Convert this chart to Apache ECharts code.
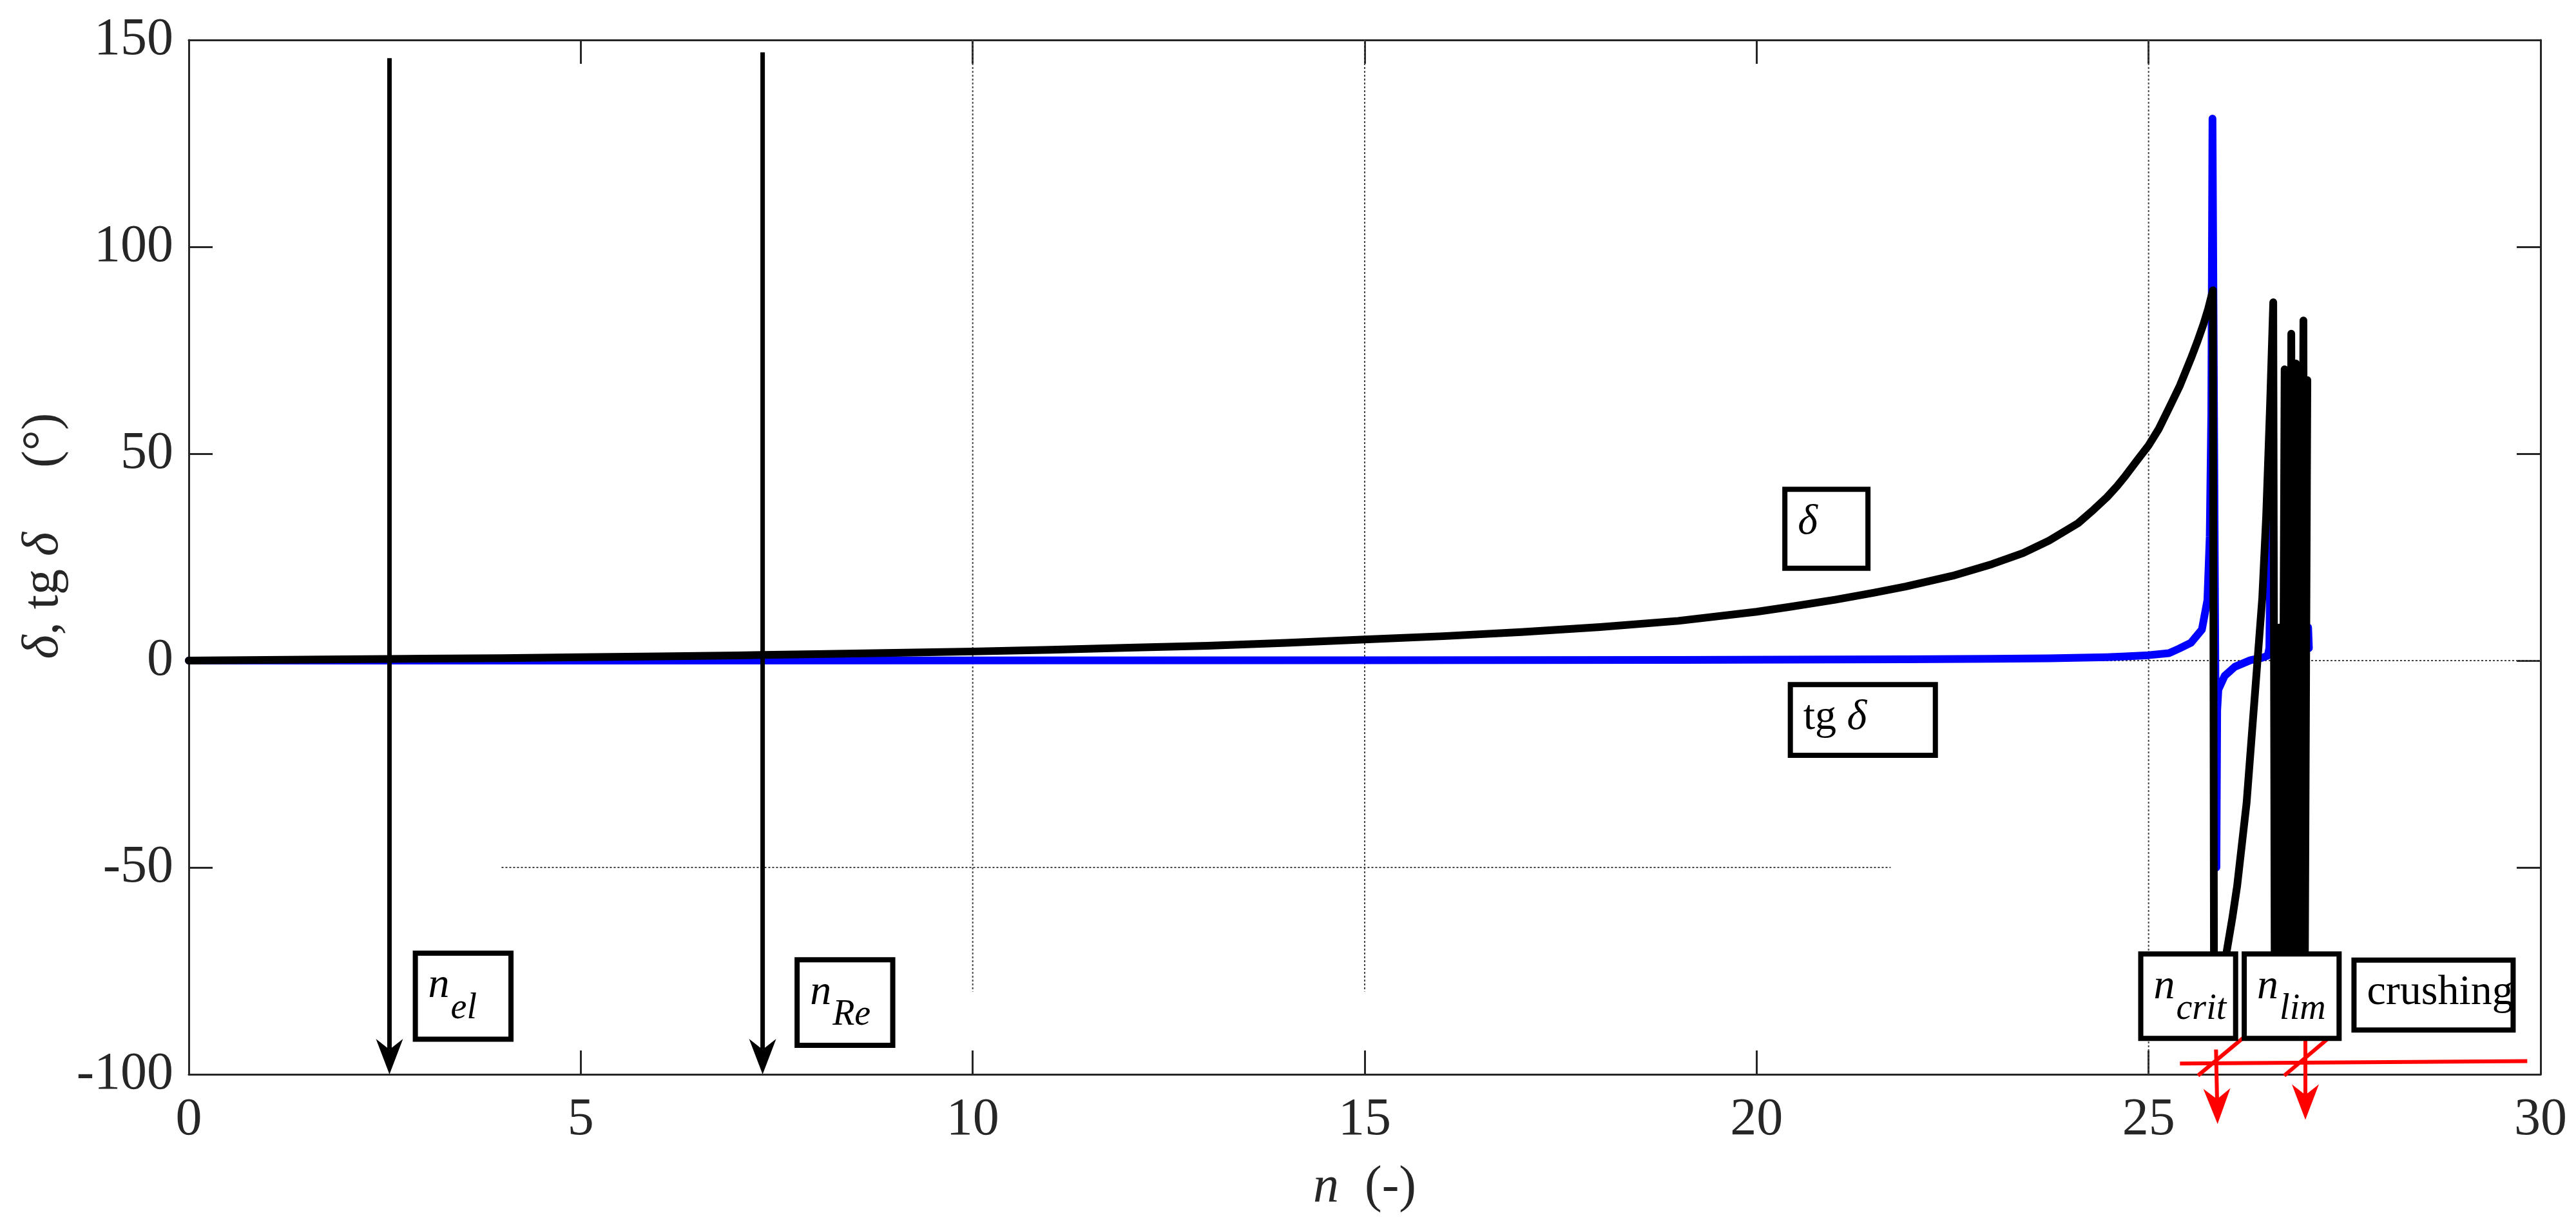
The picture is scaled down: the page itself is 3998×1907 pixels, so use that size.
<!DOCTYPE html>
<html>
<head>
<meta charset="utf-8">
<title>delta, tg delta vs n</title>
<script src="https://cdn.jsdelivr.net/npm/echarts@6/dist/echarts.min.js"></script>
<style>
  html, body { margin: 0; padding: 0; background: #fff; }
  #chart { width: 3998px; height: 1907px; }
</style>
</head>
<body>
<div id="chart"></div>
<script>
// ---- data ----
// delta (black)
const deltaN = [0, 1, 2, 2.56, 3, 4, 5, 6, 7, 7.32, 8, 9, 10, 11, 12, 13, 14, 15, 16, 17, 18, 19, 20, 20.43, 21, 21.5, 21.9, 22.5, 23, 23.4, 23.73, 24.1, 24.3, 24.47, 24.6, 24.71, 24.85,
  25, 25.13, 25.26, 25.4, 25.54, 25.62, 25.7, 25.76, 25.82,
  25.835, 25.95, 25.99, 26.07, 26.13, 26.25, 26.33, 26.37, 26.45, 26.5, 26.55, 26.59,
  26.61, 26.655, 26.665, 26.675, 26.7, 26.735, 26.76, 26.795, 26.82, 26.845, 26.86, 26.88, 26.9, 26.935, 26.975, 26.99, 26.995, 27.025]
const deltaVal = [0, 0.15, 0.3, 0.4, 0.45, 0.6, 0.8, 1.0, 1.25, 1.35, 1.55, 1.85, 2.2, 2.6, 3.1, 3.6, 4.3, 5.1, 5.9, 6.9, 8.1, 9.6, 11.8, 13.0, 14.7, 16.4, 17.9, 20.5, 23.3, 26.0, 29.0, 33.2, 36.5, 39.5, 42.2, 44.8, 48.3,
  52.0, 56.0, 61.0, 66.5, 73.0, 77.0, 81.3, 85.0, 89.5,
  -88, -88, -71, -62, -54.4, -34.4, -14.6, -4.7, 15.1, 35, 62, 86.6,
  -88, -88, 8, -88, -88, 70.4, -88, -88, 79, -88, -88, 71.8, -88, -88, 82.2, -88, -88, 67.8]

// tg delta (blue), null = gap
const tgN = [0, 5, 10, 15, 19, 20.43, 21.9, 23, 23.73, 24.47, 24.71, 25, 25.26, 25.39, 25.54, 25.68, 25.75, 25.78, 25.8, 25.815,
  25.865, 25.875, 25.89, 25.97, 26.1, 26.3, 26.45, 26.52, 26.54, 26.548, 26.56, 26.8, 27.025, 27.035, 27.045]
const tgVal = [0, 0.015, 0.04, 0.09, 0.17, 0.23, 0.32, 0.43, 0.55, 0.82, 1.0, 1.3, 1.8, 2.9, 4.3, 7.5, 14.6, 30, 60, 131,
  -50, -12, -7, -3.7, -1.5, 0.1, 0.7, 1.2, 3, 16, 60, null, 6, 8, 3]

// axis ticks
const xTicks = [0, 5, 10, 15, 20, 25, 30]
const yTicks = [-100, -50, 0, 50, 100, 150]

// partial reference lines
const gridVN = [10, 15, 25]
const gridVTop = [150, 150, 150]
const gridVBottom = [-80, -80, -100]
const gridHVal = [0, -50]
const gridHFrom = [0, 3.99]
const gridHTo = [30, 21.71]

// arrows [n0, v0, n1(tip), v1(tip)]
const markerArrows = [[2.56, 145.6, 2.56, -100], [7.32, 147.0, 7.32, -100]]
const crushArrows = [[25.86, -94, 25.88, -112], [27.0, -91.5, 27.0, -111]]
const crushLines = [[25.40, -97.4, 29.83, -96.8], [25.63, -100.3, 26.2, -91.3], [26.73, -100.3, 27.28, -91.5]]

// text boxes [n0, vTop, n1, vBottom]
const labelBoxes = [
  [2.89, -70.7, 4.11, -91.5],
  [7.76, -72.3, 8.98, -93.0],
  [24.9, -70.9, 26.11, -91.3],
  [26.22, -70.9, 27.43, -91.3],
  [27.62, -72.4, 29.65, -89.3],
  [20.36, 41.4, 21.42, 22.3],
  [20.43, -5.8, 22.28, -22.9]
]
const labelTexts = ['{m|n}{s|el}', '{m|n}{s|Re}', '{m|n}{s|crit}', '{m|n}{s|lim}', 'crushing', '{m|δ}', 'tg {i|δ}']

// ---- chart ----
const SERIF = 'Liberation Serif'
const AXIS_COLOR = '#262626'
const chart = echarts.init(document.getElementById('chart'))

const boxRich = {
  m: { fontFamily: SERIF, fontStyle: 'italic', fontSize: 66, color: '#000', verticalAlign: 'top' },
  s: { fontFamily: SERIF, fontStyle: 'italic', fontSize: 56, color: '#000', verticalAlign: 'top', padding: [40, 0, 0, 2] },
  i: { fontFamily: SERIF, fontStyle: 'italic', fontSize: 66, color: '#000' }
}

function renderBox(params, api) {
  const p0 = api.coord([api.value(0), api.value(1)])
  const p1 = api.coord([api.value(2), api.value(3)])
  return {
    type: 'group',
    children: [
      {
        type: 'rect',
        shape: { x: p0[0], y: p0[1], width: p1[0] - p0[0], height: p1[1] - p0[1] },
        style: { fill: '#fff', stroke: '#000', lineWidth: 8 }
      },
      {
        type: 'text',
        x: p0[0] + 20,
        y: p0[1] + 18,
        style: {
          text: labelTexts[params.dataIndex],
          rich: boxRich,
          fontFamily: SERIF,
          fontSize: 66,
          fill: '#000',
          align: 'left',
          verticalAlign: 'top'
        }
      }
    ]
  }
}

// arrow / segment drawer
function makeArrowRender(color, width, withHead) {
  return function (params, api) {
    const a = api.coord([api.value(0), api.value(1)])
    const b = api.coord([api.value(2), api.value(3)])
    const dx = b[0] - a[0], dy = b[1] - a[1]
    const len = Math.sqrt(dx * dx + dy * dy)
    const ux = dx / len, uy = dy / len
    const vx = -uy, vy = ux
    const children = []
    if (withHead) {
      const L = 55, W = 42
      const notch = [b[0] - ux * L * 0.7, b[1] - uy * L * 0.7]
      children.push({
        type: 'line',
        shape: { x1: a[0], y1: a[1], x2: notch[0], y2: notch[1] },
        style: { stroke: color, lineWidth: width }
      })
      children.push({
        type: 'polygon',
        shape: {
          points: [
            b,
            [b[0] - ux * L + vx * W / 2, b[1] - uy * L + vy * W / 2],
            notch,
            [b[0] - ux * L - vx * W / 2, b[1] - uy * L - vy * W / 2]
          ]
        },
        style: { fill: color }
      })
    } else {
      children.push({
        type: 'line',
        shape: { x1: a[0], y1: a[1], x2: b[0], y2: b[1] },
        style: { stroke: color, lineWidth: width }
      })
    }
    return { type: 'group', children: children }
  }
}

const refLineStyle = { color: '#444', width: 2, type: [3, 3] }
const refSeries = []
gridVN.forEach((n, i) => {
  refSeries.push({
    type: 'line', z: 1, silent: true, symbol: 'none', animation: false,
    lineStyle: refLineStyle,
    data: [[n, gridVTop[i]], [n, gridVBottom[i]]]
  })
})
gridHVal.forEach((v, i) => {
  refSeries.push({
    type: 'line', z: 1, silent: true, symbol: 'none', animation: false,
    lineStyle: refLineStyle,
    data: [[gridHFrom[i], v], [gridHTo[i], v]]
  })
})

const axisLineStyle = { color: AXIS_COLOR, width: 3 }
const tickStyle = { inside: true, length: 37, lineStyle: { color: AXIS_COLOR, width: 3 } }
const labelFont = { fontFamily: SERIF, fontSize: 82, color: AXIS_COLOR }
const richName = { i: { fontFamily: SERIF, fontSize: 80, fontStyle: 'italic', color: AXIS_COLOR } }

const option = {
  animation: false,
  backgroundColor: '#fff',
  grid: { left: 293, right: 55, top: 62, bottom: 240, containLabel: false },
  xAxis: [
    {
      type: 'value', min: xTicks[0], max: xTicks[xTicks.length - 1], interval: 5,
      position: 'bottom',
      axisLine: { show: true, onZero: false, lineStyle: axisLineStyle },
      axisTick: tickStyle,
      splitLine: { show: false },
      axisLabel: Object.assign({ margin: 30, showMinLabel: true, showMaxLabel: true }, labelFont),
      name: '{i|n}  (-)',
      nameLocation: 'middle',
      nameGap: 136,
      nameTextStyle: { fontFamily: SERIF, fontSize: 80, color: AXIS_COLOR, rich: richName }
    },
    {
      type: 'value', min: xTicks[0], max: xTicks[xTicks.length - 1], interval: 5,
      position: 'top',
      axisLine: { show: true, onZero: false, lineStyle: axisLineStyle },
      axisTick: tickStyle,
      splitLine: { show: false },
      axisLabel: { show: false }
    }
  ],
  yAxis: [
    {
      type: 'value', min: yTicks[0], max: yTicks[yTicks.length - 1], interval: 50,
      position: 'left',
      axisLine: { show: true, onZero: false, lineStyle: axisLineStyle },
      axisTick: tickStyle,
      splitLine: { show: false },
      axisLabel: Object.assign({ margin: 24, showMinLabel: true, showMaxLabel: true }, labelFont),
      name: '{i|δ}, tg {i|δ}     (°)',
      nameLocation: 'middle',
      nameGap: 176,
      nameTextStyle: { fontFamily: SERIF, fontSize: 80, color: AXIS_COLOR, rich: richName, padding: [0, 0, 0, 66] }
    },
    {
      type: 'value', min: yTicks[0], max: yTicks[yTicks.length - 1], interval: 50,
      position: 'right',
      axisLine: { show: true, onZero: false, lineStyle: axisLineStyle },
      axisTick: tickStyle,
      splitLine: { show: false },
      axisLabel: { show: false }
    }
  ],
  series: refSeries.concat([
    {
      name: 'tg δ',
      type: 'line', z: 3, symbol: 'none', showSymbol: false, connectNulls: false,
      lineStyle: { color: '#0000ff', width: 12, cap: 'round', join: 'round' },
      data: tgN.map((n, i) => [n, tgVal[i] === null ? '-' : tgVal[i]])
    },
    {
      name: 'δ',
      type: 'line', z: 4, symbol: 'none', showSymbol: false,
      lineStyle: { color: '#000', width: 12, cap: 'round', join: 'round' },
      data: deltaN.map((n, i) => [n, deltaVal[i]])
    },
    {
      type: 'custom', z: 5, silent: true, clip: false,
      renderItem: makeArrowRender('#000', 7, true),
      data: markerArrows
    },
    {
      type: 'custom', z: 5, silent: true, clip: false,
      renderItem: makeArrowRender('#ff0000', 6, false),
      data: crushLines
    },
    {
      type: 'custom', z: 5, silent: true, clip: false,
      renderItem: makeArrowRender('#ff0000', 6, true),
      data: crushArrows
    },
    {
      type: 'custom', z: 6, silent: true, clip: false,
      renderItem: renderBox,
      data: labelBoxes
    }
  ])
}

chart.setOption(option)
window.addEventListener('resize', () => chart.resize())
</script>
</body>
</html>
